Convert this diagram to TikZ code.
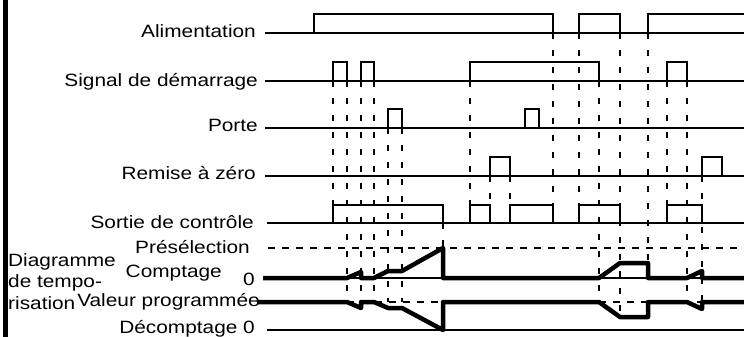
\documentclass[tikz,border=0pt]{standalone}
\usepackage{fontspec}
\setmainfont{Liberation Sans}[FakeStretch=1.17]
\begin{document}
\begin{tikzpicture}[x=1pt,y=-1pt,
  sig/.style={line width=2pt},
  trace/.style={line width=4.5pt,line join=round},
  vdash/.style={line width=2pt,dash pattern=on 6pt off 11pt},
  hdash/.style={line width=1.8pt,dash pattern=on 7pt off 7pt},
  lbl/.style={anchor=base east,inner sep=0pt,font=\fontsize{17.8}{20}\selectfont},
  lblw/.style={anchor=base west,inner sep=0pt,font=\fontsize{17.8}{20}\selectfont}]
\useasboundingbox (0,0) rectangle (744,337);
\fill (3,0) rectangle (8,337);
% labels
\node[lbl] (lalim) at (256,38) {Alimentation};
\node[lbl] (lsig) at (258,86) {Signal de démarrage};
\node[lbl] (lporte) at (258,131) {Porte};
\node[lbl] (lraz) at (256,179) {Remise à zéro};
\node[lbl] (lsort) at (254,228) {Sortie de contrôle};
\node[lbl] (lpre) at (250,253) {Présélection};
\node[lbl] (lcpt) at (222,277) {Comptage};
\node[lbl] (lzero) at (255,285) {0};
\node[lbl] (lval) at (260,306) {Valeur programmée};
\node[lbl] (ldec) at (255,333) {Décomptage 0};
\node[lblw] (ld1) at (8,266) {Diagramme};
\node[lblw] (ld2) at (8,287) {de tempo-};
\node[lblw] (ld3) at (8,309) {risation};
% dashed verticals
\foreach \x/\a/\b in {333/81/205,347/81/302,361/81/302,374/81/302,388/128/302,402/128/302,
  443/223/248,470/81/205,490/176/205,510/176/205,553/33/205,579/33/205,599/81/302,
  620/33/317,648/33/263,667/81/205,687/81/302,702/176/302}
  \draw[vdash] (\x,\a) -- (\x,\b);
% horizontal reference lines
\draw[hdash] (268,248) -- (744,248);
\draw[hdash] (263,302) -- (744,302);
\draw[sig] (263,278) -- (744,278);
\draw[sig] (267,330) -- (744,330);
% Alimentation
\draw[sig] (265,33) -- (744,33);
\draw[sig] (314,33) -- (314,14) -- (553,14) -- (553,33);
\draw[sig] (579,33) -- (579,14) -- (620,14) -- (620,33);
\draw[sig] (648,33) -- (648,14) -- (744,14);
% Signal de demarrage
\draw[sig] (265,81) -- (744,81);
\foreach \a/\b in {333/347,361/374,470/599,667/687}
  \draw[sig] (\a,81) -- (\a,62) -- (\b,62) -- (\b,81);
% Porte
\draw[sig] (265,128) -- (744,128);
\foreach \a/\b in {388/402,525/539}
  \draw[sig] (\a,128) -- (\a,109) -- (\b,109) -- (\b,128);
% Remise a zero
\draw[sig] (265,176) -- (744,176);
\foreach \a/\b in {490/510,702/722}
  \draw[sig] (\a,176) -- (\a,157) -- (\b,157) -- (\b,176);
% Sortie de controle
\draw[sig] (267,223) -- (744,223);
\foreach \a/\b in {333/443,470/490,510/553,579/620,667/702}
  \draw[sig] (\a,223) -- (\a,205) -- (\b,205) -- (\b,223);
% Comptage trace
\draw[trace] (263,278) -- (347,278) -- (361,272) -- (361,278) -- (374,278) -- (388,271)
  -- (402,271) -- (443,248) -- (443,278) -- (599,278) -- (620,263) -- (648,263)
  -- (648,278) -- (687,278) -- (702,271) -- (702,278) -- (744,278);
% Decomptage trace
\draw[trace] (257,302) -- (347,302) -- (361,308) -- (361,302) -- (374,302) -- (388,308)
  -- (402,308) -- (443,330) -- (443,302) -- (599,302) -- (620,317) -- (648,317)
  -- (648,302) -- (687,302) -- (702,309) -- (702,302) -- (744,302);
\end{tikzpicture}
\end{document}
